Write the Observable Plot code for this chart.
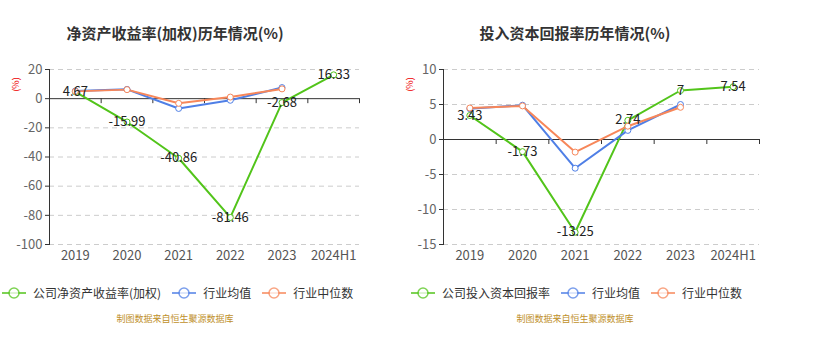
<!DOCTYPE html>
<html><head><meta charset="utf-8">
<script src="https://cdn.jsdelivr.net/npm/d3@7"></script>
<script src="https://cdn.jsdelivr.net/npm/@observablehq/plot@0.6"></script>
<style>
body{margin:0;background:#fff;font-family:"Noto Sans CJK SC","Noto Sans",sans-serif;}
#wrap{position:relative;width:815px;height:340px;overflow:hidden;}
.panel{position:absolute;top:0;width:400px;height:340px;}
.title{position:absolute;top:22px;font-size:15px;font-weight:bold;color:#333;text-align:center;white-space:nowrap;}
.unit{position:absolute;font-size:9px;color:#e00;transform:rotate(-90deg);transform-origin:center;}
.legend{position:absolute;top:284px;display:flex;align-items:center;font-size:12px;color:#333;white-space:nowrap;}
.legend .item{display:flex;align-items:center;margin-right:11px;}
.legend svg{margin-right:7px;}
.caption{position:absolute;top:312px;font-size:9px;color:#c0902a;text-align:center;white-space:nowrap;}
.panel svg.plot{position:absolute;left:0;top:0;}
</style></head>
<body><div id="wrap"></div>
<script>
const categories = ["2019","2020","2021","2022","2023","2024H1"];
// Left chart: 净资产收益率(加权)
const roeCompany = [4.67,-15.99,-40.86,-81.46,-2.68,16.33];
const roeMean    = [5.3,6.4,-6.7,-1.1,7.6];
const roeMedian  = [5.0,6.2,-3.2,1.1,6.7];
const roeTicks   = [20,0,-20,-40,-60,-80,-100];
// Right chart: 投入资本回报率
const roicCompany = [3.43,-1.73,-13.25,2.74,7,7.54];
const roicMean    = [4.4,4.9,-4.1,1.3,5.0];
const roicMedian  = [4.5,4.8,-1.8,1.9,4.6];
const roicTicks   = [10,5,0,-5,-10,-15];

const GREEN="#52c41a", BLUE="#4f7fe6", ORANGE="#f7875a";
const FONT='"Noto Sans CJK SC","Noto Sans",sans-serif';

function rows(vals){return vals.map((v,i)=>({i, v}));}

function makeChart(opts){
  const {company, mean, median, ticks, marginLeft, marginRight} = opts;
  const idx = categories.map((c,i)=>i);
  const bounds = categories.map((c,i)=>i+0.5);
  const series = [[company,GREEN],[mean,BLUE],[median,ORANGE]];
  const marks = [
    Plot.gridY(ticks.filter(t=>t!==0),{stroke:"#ccc",strokeOpacity:1,strokeDasharray:"5,4"}),
    Plot.ruleY([0],{stroke:"#333",strokeWidth:1}),
    Plot.ruleX(bounds,{y1:0,y2:0,insetTop:0,insetBottom:-5,stroke:"#333"}),
    Plot.frame({anchor:"left",stroke:"#333"}),
    Plot.axisY({ticks, tickSize:4, tickPadding:3, fontSize:13, fill:"#666", stroke:"#333", label:null, tickFormat:d=>String(d)}),
    Plot.axisX({ticks: idx, tickSize:0, tickPadding:6, fontSize:13, fill:"#555", label:null, tickFormat:i=>categories[i]})
  ];
  for (const [vals,col] of series){
    marks.push(Plot.line(rows(vals),{x:"i",y:"v",stroke:col,strokeWidth:2}));
  }
  for (const [vals,col] of series){
    marks.push(Plot.dot(rows(vals),{x:"i",y:"v",r:3,fill:"#fff",stroke:col,strokeWidth:1}));
  }
  marks.push(Plot.text(rows(company),{x:"i",y:"v",text:d=>String(d.v),fontSize:13,fill:"#222"}));
  const svg = Plot.plot({
    width:400, height:270,
    marginTop:69, marginBottom:26, marginLeft, marginRight,
    x:{type:"linear",domain:[-0.5,categories.length-0.5]},
    y:{domain:[ticks[ticks.length-1],ticks[0]]},
    style:{fontFamily:FONT, background:"transparent", overflow:"visible"},
    marks
  });
  svg.classList.add("plot");
  return svg;
}

function legendIcon(col){
  return `<svg width="24" height="14"><line x1="0" y1="7" x2="24" y2="7" stroke="${col}" stroke-width="2" opacity="0.75"/><circle cx="12" cy="7" r="5" fill="#fff" stroke="${col}" stroke-width="1.5" opacity="0.75"/></svg>`;
}

function panel(left, title, titleCenter, companyName, chartOpts, legendLeft){
  const p = document.createElement("div");
  p.className="panel"; p.style.left=left+"px";
  p.appendChild(makeChart(chartOpts));
  const t=document.createElement("div"); t.className="title"; t.textContent=title;
  t.style.left=(titleCenter-200)+"px"; t.style.width="400px"; p.appendChild(t);
  const u=document.createElement("div"); u.className="unit"; u.textContent="(%)";
  u.style.left=(chartOpts.unitX-9)+"px"; u.style.top="78px"; p.appendChild(u);
  const lg=document.createElement("div"); lg.className="legend"; lg.style.left=legendLeft+"px";
  const names=[[companyName,GREEN],["行业均值",BLUE],["行业中位数",ORANGE]];
  lg.innerHTML = names.map(([n,c])=>`<div class="item">${legendIcon(c)}<span>${n}</span></div>`).join("");
  p.appendChild(lg);
  const cap=document.createElement("div"); cap.className="caption"; cap.textContent="制图数据来自恒生聚源数据库";
  cap.style.left=(titleCenter-200)+"px"; cap.style.width="400px"; p.appendChild(cap);
  document.getElementById("wrap").appendChild(p);
}

panel(0,"净资产收益率(加权)历年情况(%)",175,"公司净资产收益率(加权)",
  {company:roeCompany,mean:roeMean,median:roeMedian,ticks:roeTicks,marginLeft:49,marginRight:41,unitX:17},2);
panel(400,"投入资本回报率历年情况(%)",175,"公司投入资本回报率",
  {company:roicCompany,mean:roicMean,median:roicMedian,ticks:roicTicks,marginLeft:43,marginRight:41,unitX:11},11);
</script></body></html>
